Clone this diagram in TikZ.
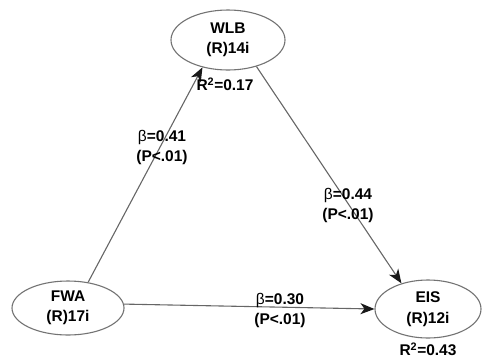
\documentclass[tikz,border=0pt]{standalone}
\usepackage{fontspec}
\setmainfont{Liberation Sans}
\usetikzlibrary{shapes.geometric,arrows.meta}
\tikzset{
  latent/.style={ellipse, draw=black!55, line width=1.1pt, fill=white, align=center,
    inner sep=0pt, font=\fontsize{15.5}{20.5}\selectfont\bfseries, text=black},
  lbl/.style={align=center, inner sep=0pt, font=\fontsize{15.5}{20}\selectfont\bfseries, text=black},
  path/.style={draw=black!60, line width=1.1pt, -{Stealth[length=14pt,width=11pt,inset=4pt,color=black!90]}}
}
\begin{document}
\begin{tikzpicture}[x=1pt,y=-1pt]
\useasboundingbox (0,0) rectangle (482,360);
\node[latent, minimum width=114pt, minimum height=60pt] (wlb) at (228,40) {WLB\\(R)14i};
\node[latent, minimum width=112pt, minimum height=54pt] (fwa) at (68,308) {FWA\\(R)17i};
\node[latent, minimum width=106pt, minimum height=58pt] (eis) at (428,309) {EIS\\(R)12i};
\draw[path] (fwa.52) -- (wlb.227);
\draw[path] (wlb.-43) -- (eis.136);
\draw[path] (fwa.4) -- (eis.180);
\node[lbl] (b1) at (162,147) {{\mdseries β}=0.41\\(P<.01)};
\node[lbl] (b2) at (348,205) {{\mdseries β}=0.44\\(P<.01)};
\node[lbl] (b3) at (280,310) {{\mdseries β}=0.30\\(P<.01)};
\node[lbl] (r1) at (225,84) {R\textsuperscript{2}=0.17};
\node[lbl] (r2) at (428,349) {R\textsuperscript{2}=0.43};
\end{tikzpicture}
\end{document}
